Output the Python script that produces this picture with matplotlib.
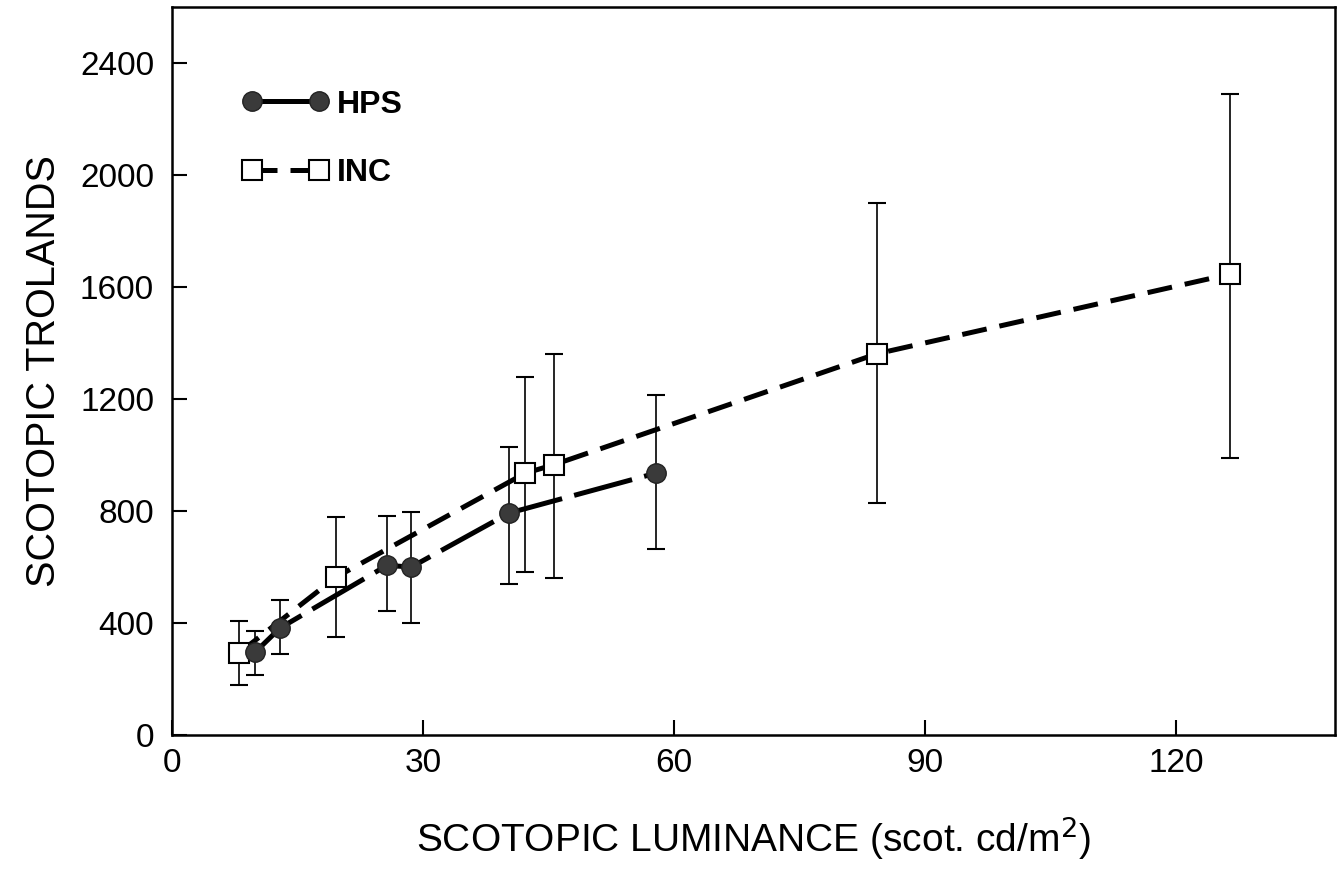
import matplotlib
matplotlib.use("Agg")
import matplotlib.pyplot as plt

plt.rcParams["font.family"] = ["Liberation Sans", "DejaVu Sans"]

# HPS (filled circles)
hps_x = [9.9, 12.9, 25.7, 28.6, 40.3, 57.8]
hps_y = [295, 382, 606, 600, 793, 935]
hps_lo = [216, 290, 443, 400, 539, 665]
hps_hi = [372, 481, 781, 798, 1030, 1214]

# INC (open squares)
inc_x = [8.0, 19.6, 42.2, 45.7, 84.3, 126.4]
inc_y = [293, 564, 935, 966, 1362, 1646]
inc_lo = [178, 350, 582, 562, 830, 990]
inc_hi = [406, 778, 1280, 1360, 1899, 2290]

fig = plt.figure(figsize=(13.4, 8.73), dpi=100)
ax = fig.add_axes([0.1284, 0.158, 0.8679, 0.834])

# error bars first so the markers sit on top
ax.errorbar(inc_x, inc_y, yerr=[[y - l for y, l in zip(inc_y, inc_lo)],
                                [h - y for y, h in zip(inc_y, inc_hi)]],
            fmt="none", ecolor="black", elinewidth=1.2, capsize=6.5, capthick=1.5, zorder=2)
ax.errorbar(hps_x, hps_y, yerr=[[y - l for y, l in zip(hps_y, hps_lo)],
                                [h - y for y, h in zip(hps_y, hps_hi)]],
            fmt="none", ecolor="black", elinewidth=1.2, capsize=6.5, capthick=1.5, zorder=2)

ax.plot(inc_x, inc_y, color="black", lw=3.6, dashes=(5, 2.6),
        marker="s", markersize=14, markerfacecolor="white",
        markeredgecolor="black", markeredgewidth=1.5, label="INC", zorder=3)
ax.plot(hps_x, hps_y, color="black", lw=3.6, dashes=(12, 2.5),
        marker="o", markersize=14, markerfacecolor="#3a3a3a",
        markeredgecolor="#222222", markeredgewidth=1.0, label="HPS", zorder=4)

ax.set_xlim(0, 139)
ax.set_ylim(0, 2600)
ax.set_xticks([0, 30, 60, 90, 120])
ax.set_yticks([0, 400, 800, 1200, 1600, 2000, 2400])

ax.tick_params(direction="in", length=11, width=1.5, labelsize=24,
               top=False, right=False)
ax.tick_params(axis="x", pad=9)
ax.tick_params(axis="y", pad=13)
for s in ax.spines.values():
    s.set_linewidth(1.8)

ax.set_xlabel("SCOTOPIC LUMINANCE (scot. cd/m$^2$)", fontsize=28, labelpad=26)
ax.set_ylabel("SCOTOPIC TROLANDS", fontsize=28.5, labelpad=12)

handles, labels = ax.get_legend_handles_labels()
leg = ax.legend(handles[::-1], labels[::-1], loc="upper left",
                bbox_to_anchor=(0.036, 0.926), frameon=False, numpoints=2,
                handlelength=2.7, handletextpad=0.25, labelspacing=1.2,
                prop={"size": 23, "weight": "bold"})

fig.savefig("out.png", dpi=100)
